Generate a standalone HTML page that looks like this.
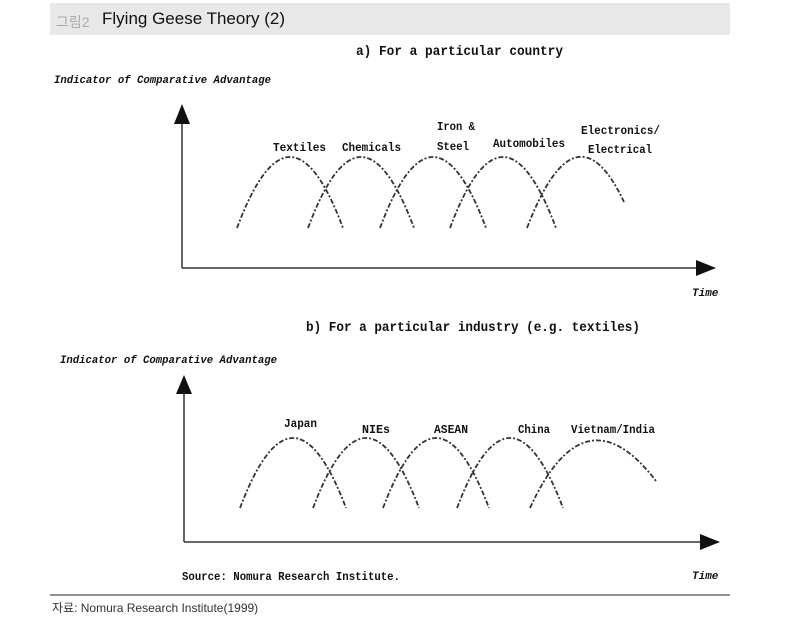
<!DOCTYPE html>
<html><head><meta charset="utf-8"><style>
body{margin:0;width:800px;height:618px;background:#fff;position:relative;overflow:hidden;font-family:"Liberation Sans","Noto Sans CJK KR",sans-serif}
.hdr{position:absolute;left:50px;top:3px;width:680px;height:32px;background:#e8e8e8}
.hdr span{position:absolute;top:6px;font-size:17px}
.m{font-family:"Liberation Mono","DejaVu Sans Mono",monospace;font-weight:bold;fill:#111}
</style></head><body>
<div class="hdr"><span style="left:6px;color:#aaa;font-size:14px;top:9px">그림2</span><span style="left:52px;color:#111">Flying Geese Theory (2)</span></div>
<svg width="800" height="618" style="position:absolute;left:0;top:0">
<g class="m" font-size="14"><text x="356" y="55" textLength="207" lengthAdjust="spacingAndGlyphs">a) For a particular country</text>
<text x="306" y="331" textLength="334" lengthAdjust="spacingAndGlyphs">b) For a particular industry (e.g. textiles)</text></g>
<g class="m" font-size="11" font-style="italic">
<text x="54" y="83" textLength="217" lengthAdjust="spacingAndGlyphs">Indicator of Comparative Advantage</text>
<text x="60" y="363" textLength="217" lengthAdjust="spacingAndGlyphs">Indicator of Comparative Advantage</text>
<text x="692" y="296">Time</text><text x="692" y="579">Time</text></g>
<g class="m" font-size="12">
<text x="273" y="151" textLength="53" lengthAdjust="spacingAndGlyphs">Textiles</text>
<text x="342" y="151" textLength="59" lengthAdjust="spacingAndGlyphs">Chemicals</text>
<text x="437" y="130" textLength="38" lengthAdjust="spacingAndGlyphs">Iron &amp;</text>
<text x="437" y="150" textLength="32" lengthAdjust="spacingAndGlyphs">Steel</text>
<text x="493" y="147" textLength="72" lengthAdjust="spacingAndGlyphs">Automobiles</text>
<text x="581" y="134" textLength="79" lengthAdjust="spacingAndGlyphs">Electronics/</text>
<text x="588" y="153" textLength="64" lengthAdjust="spacingAndGlyphs">Electrical</text>
<text x="284" y="427" textLength="33" lengthAdjust="spacingAndGlyphs">Japan</text>
<text x="362" y="433" textLength="28" lengthAdjust="spacingAndGlyphs">NIEs</text>
<text x="434" y="433" textLength="34" lengthAdjust="spacingAndGlyphs">ASEAN</text>
<text x="518" y="433" textLength="32" lengthAdjust="spacingAndGlyphs">China</text>
<text x="571" y="433" textLength="84" lengthAdjust="spacingAndGlyphs">Vietnam/India</text>
<text x="182" y="580" textLength="218" lengthAdjust="spacingAndGlyphs">Source: Nomura Research Institute.</text></g>
<g stroke="#333" stroke-width="1.5" fill="none">
<line x1="182" y1="120" x2="182" y2="268"/><line x1="182" y1="268" x2="700" y2="268"/>
<line x1="184" y1="390" x2="184" y2="542"/><line x1="184" y1="542" x2="702" y2="542"/>
</g>
<g fill="#111"><polygon points="182,104 174,124 190,124"/><polygon points="716,268 696,260 696,276"/>
<polygon points="184,375 176,394 192,394"/><polygon points="720,542 700,534 700,550"/></g>
<g stroke="#333" stroke-width="1.8" fill="none" stroke-dasharray="5 2 2 2">
<path d="M237 228 Q290 86 343 228"/><path d="M308 228 Q361 86 414 228"/><path d="M380 228 Q433 86 486 228"/><path d="M450 228 Q503 86 556 228"/><path d="M527 228 Q576 100 624 202"/>
<path d="M240 508 Q293 368 346 508"/><path d="M313 508 Q366 368 419 508"/><path d="M383 508 Q436 368 489 508"/><path d="M457 508 Q510 368 563 508"/><path d="M530 508 Q585 388 656 481"/>
</g>
<line x1="50" y1="595" x2="730" y2="595" stroke="#222" stroke-width="1"/>
<text x="52" y="612" font-size="12" fill="#333" font-family="Liberation Sans,Noto Sans CJK KR,sans-serif">자료: Nomura Research Institute(1999)</text>
</svg>
</body></html>
